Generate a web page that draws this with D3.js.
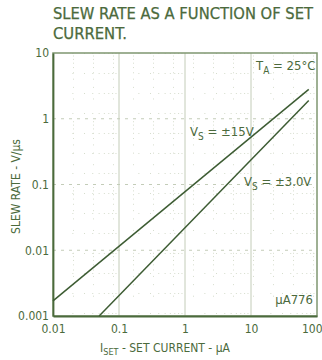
<!DOCTYPE html>
<html>
<head>
<meta charset="utf-8">
<script src="https://cdn.jsdelivr.net/npm/d3@7"></script>
<style>
  body { margin: 0; background: #fff; }
  text { font-family: "Liberation Sans Narrow", "DejaVu Sans Condensed", "Liberation Sans", sans-serif; }
</style>
</head>
<body>
<svg id="chart"></svg>
<script>
// data
const xTicks = [0.01, 0.1, 1, 10, 100]
const xTickLabels = ["0.01", "0.1", "1", "10", "100"]
const yTicks = [0.001, 0.01, 0.1, 1, 10]
const yTickLabels = ["0.001", "0.01", "0.1", "1", "10"]
const vs15_current = [0.01, 75]
const vs15_slew = [0.0017, 2.8]
const vs3_current = [0.05, 75]
const vs3_slew = [0.001, 1.9]

const ink = "#4b6a3c"
const lineInk = "#3d5c33"
const gridInk = "#c3ccb8"

const width = 322, height = 360
const margin = {top: 53, right: 5, bottom: 44, left: 53}

const svg = d3.select("#chart")
    .attr("width", width)
    .attr("height", height)

const x = d3.scaleLog().domain([0.01, 100]).range([margin.left, width - margin.right])
const y = d3.scaleLog().domain([0.001, 10]).range([height - margin.bottom, margin.top])

// minor grid, drawn as sparse dots
let minorX = [], minorY = []
for (const d of [0.01, 0.1, 1, 10]) for (let k = 2; k < 10; k++) minorX.push(d * k)
for (const d of [0.001, 0.01, 0.1, 1]) for (let k = 2; k < 10; k++) minorY.push(d * k)

svg.append("g").selectAll("line")
    .data(minorX)
    .join("line")
    .attr("x1", d => x(d)).attr("x2", d => x(d))
    .attr("y1", y(10)).attr("y2", y(0.001))
    .attr("stroke", "#d6ddcd")
    .attr("stroke-width", 1)
    .attr("stroke-dasharray", "1,19")

svg.append("g").selectAll("line")
    .data(minorY)
    .join("line")
    .attr("x1", x(0.01)).attr("x2", x(100))
    .attr("y1", d => y(d)).attr("y2", d => y(d))
    .attr("stroke", "#d6ddcd")
    .attr("stroke-width", 1)
    .attr("stroke-dasharray", "1,19")

// major grid
svg.append("g").selectAll("line")
    .data(xTicks.slice(1, -1))
    .join("line")
    .attr("x1", d => x(d)).attr("x2", d => x(d))
    .attr("y1", y(10)).attr("y2", y(0.001))
    .attr("stroke", gridInk)
    .attr("stroke-width", 1)

svg.append("g").selectAll("line")
    .data(yTicks.slice(1, -1))
    .join("line")
    .attr("x1", x(0.01)).attr("x2", x(100))
    .attr("y1", d => y(d)).attr("y2", d => y(d))
    .attr("stroke", gridInk)
    .attr("stroke-width", 1)
    .attr("stroke-dasharray", "3,5")

// frame
svg.append("rect")
    .attr("x", x(0.01)).attr("y", y(10))
    .attr("width", x(100) - x(0.01))
    .attr("height", y(0.001) - y(10))
    .attr("fill", "none")
    .attr("stroke", "#7f9670")
    .attr("stroke-width", 1.5)

// axes
const xAxis = d3.axisBottom(x).tickValues(xTicks)
    .tickFormat((d, i) => xTickLabels[i]).tickSize(0).tickPadding(8)
const yAxis = d3.axisLeft(y).tickValues(yTicks)
    .tickFormat((d, i) => yTickLabels[i]).tickSize(0).tickPadding(4)

const gx = svg.append("g").attr("transform", `translate(0,${y(0.001)})`).call(xAxis)
const gy = svg.append("g").attr("transform", `translate(${x(0.01)},0)`).call(yAxis)
for (const g of [gx, gy]) {
    g.select(".domain").attr("stroke", ink).attr("stroke-width", 1.8)
    g.selectAll("text")
        .attr("fill", ink)
        .attr("font-size", 12)
        .attr("font-family", "'Liberation Serif', serif")
}
// last x label sits right on the page edge, as in the print
gx.selectAll(".tick:last-child text").attr("text-anchor", "end").attr("dx", 5)

// curves
const line = d3.line().x(d => x(d[0])).y(d => y(d[1]))
svg.append("path")
    .datum(d3.zip(vs15_current, vs15_slew))
    .attr("d", line)
    .attr("fill", "none").attr("stroke", lineInk).attr("stroke-width", 1.5)
svg.append("path")
    .datum(d3.zip(vs3_current, vs3_slew))
    .attr("d", line)
    .attr("fill", "none").attr("stroke", lineInk).attr("stroke-width", 1.5)

// title
svg.append("text")
    .attr("x", 53).attr("y", 19)
    .attr("fill", ink).attr("font-size", 16)
    .attr("stroke", ink).attr("stroke-width", 0.25)
    .attr("textLength", 260).attr("lengthAdjust", "spacingAndGlyphs")
    .text("SLEW RATE AS A FUNCTION OF SET")
svg.append("text")
    .attr("x", 53).attr("y", 39)
    .attr("fill", ink).attr("font-size", 16)
    .attr("stroke", ink).attr("stroke-width", 0.25)
    .attr("textLength", 74).attr("lengthAdjust", "spacingAndGlyphs")
    .text("CURRENT.")

// axis titles
const xl = svg.append("text")
    .attr("x", 165).attr("y", 352)
    .attr("text-anchor", "middle")
    .attr("fill", ink).attr("font-size", 12)
xl.append("tspan").text("I")
xl.append("tspan").attr("font-size", 9).attr("dy", 3).text("SET")
xl.append("tspan").attr("dy", -3).text(" - SET CURRENT - µA")

svg.append("text")
    .attr("transform", `translate(20,${y(0.1) + 2}) rotate(-90)`)
    .attr("text-anchor", "middle")
    .attr("fill", ink).attr("font-size", 12)
    .text("SLEW RATE - V/µs")

// annotations
function label(px, py, main, sub, rest) {
    const t = svg.append("text")
        .attr("x", px).attr("y", py)
        .attr("fill", ink).attr("font-size", 13)
    t.append("tspan").text(main)
    t.append("tspan").attr("font-size", 10).attr("dy", 4).text(sub)
    t.append("tspan").attr("dy", -4).text(rest)
}
label(256, 70, "T", "A", " = 25°C")
label(190, 136, "V", "S", " = ±15V")
label(244, 186, "V", "S", " = ±3.0V")

svg.append("text")
    .attr("x", 313).attr("y", 304)
    .attr("text-anchor", "end")
    .attr("fill", ink).attr("font-size", 13)
    .text("µA776")
</script>
</body>
</html>
